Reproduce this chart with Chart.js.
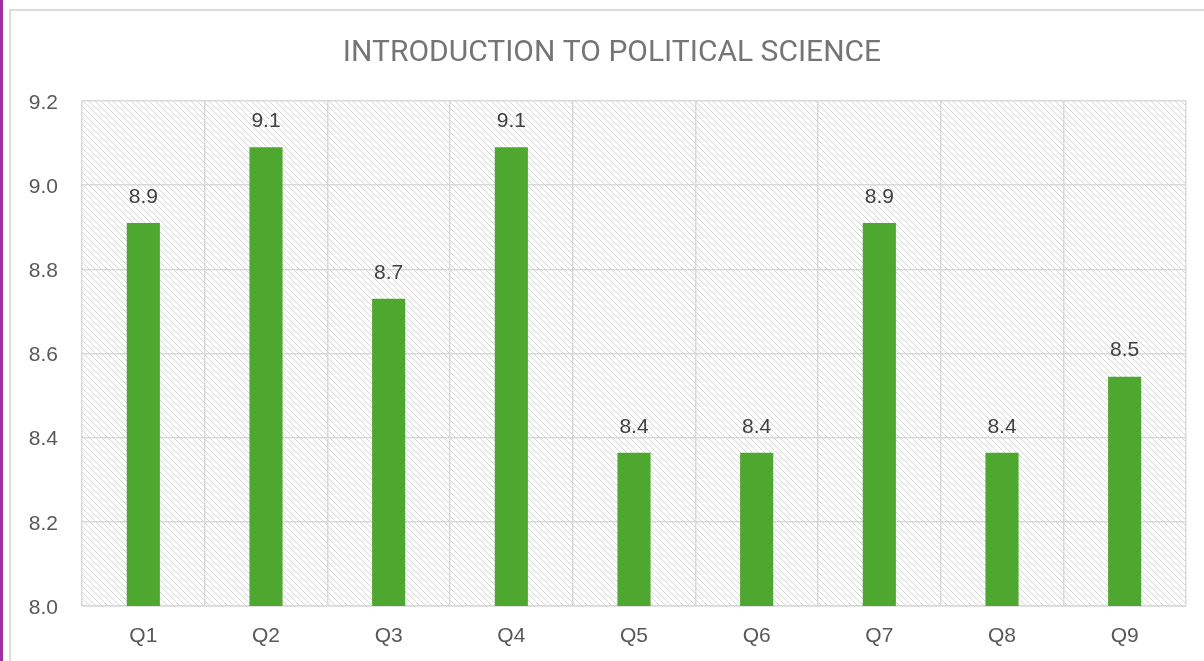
<!DOCTYPE html>
<html>
<head>
<meta charset="utf-8">
<script src="https://cdn.jsdelivr.net/npm/chart.js@4"></script>
<style>
    html, body { margin: 0; padding: 0; background: #fff; overflow: hidden; }
    #franja { position: absolute; left: 0; top: 0; width: 3px; height: 661px; background: #a0309f; }
    #marco { position: absolute; left: 9px; top: 9px; width: 1300px; height: 800px; border: 2px solid #dcdcdc; }
    #caja { position: absolute; left: 10px; top: 10px; width: 1204px; height: 651px; }
</style>
</head>
<body>
<div id="franja"></div>
<div id="marco"></div>
<div id="caja"><canvas id="graficoNotas"></canvas></div>
<script>
// Datos del gráfico
const preguntas = ['Q1', 'Q2', 'Q3', 'Q4', 'Q5', 'Q6', 'Q7', 'Q8', 'Q9'];
const notas = [8.91, 9.09, 8.73, 9.09, 8.364, 8.364, 8.91, 8.364, 8.545];
const titulo = 'INTRODUCTION TO POLITICAL SCIENCE';
const ejeMin = 8.0;
const ejeMax = 9.2;
const paso = 0.2;

// Trama diagonal del fondo del área de trazado
function crearTrama() {
    const c = document.createElement('canvas');
    c.width = 6;
    c.height = 6;
    const g = c.getContext('2d');
    g.strokeStyle = '#d6d6d6';
    g.lineWidth = 1;
    g.beginPath();
    g.moveTo(-1, -1); g.lineTo(7, 7);
    g.moveTo(-1, 5); g.lineTo(1, 7);
    g.moveTo(5, -1); g.lineTo(7, 1);
    g.stroke();
    return g.createPattern(c, 'repeat');
}

const fondoTrama = {
    id: 'fondoTrama',
    afterLayout(chart) {
        // centrar el título igual que en el original
        if (chart.titleBlock) chart.titleBlock.left = 28;
    },
    beforeDraw(chart) {
        const { ctx, chartArea } = chart;
        ctx.save();
        ctx.fillStyle = crearTrama();
        ctx.fillRect(chartArea.left, chartArea.top, chartArea.right - chartArea.left, chartArea.bottom - chartArea.top);
        ctx.restore();
    }
};

// Etiquetas de valor encima de cada barra
const etiquetasValor = {
    id: 'etiquetasValor',
    afterDatasetsDraw(chart) {
        const ctx = chart.ctx;
        const meta = chart.getDatasetMeta(0);
        ctx.save();
        ctx.font = '21px "Liberation Sans", Arial, sans-serif';
        ctx.fillStyle = '#404040';
        ctx.textAlign = 'center';
        ctx.textBaseline = 'middle';
        meta.data.forEach((bar, i) => {
            ctx.fillText(notas[i].toFixed(1), bar.x, bar.y - 26);
        });
        ctx.restore();
    }
};

new Chart(document.getElementById('graficoNotas'), {
    type: 'bar',
    data: {
        labels: preguntas,
        datasets: [{
            data: notas,
            backgroundColor: '#4ea72e',
            borderWidth: 0,
            barPercentage: 0.27,
            categoryPercentage: 1
        }]
    },
    options: {
        responsive: true,
        maintainAspectRatio: false,
        animation: false,
        layout: { padding: { left: 0, right: 28, top: 0, bottom: 0 } },
        plugins: {
            legend: { display: false },
            tooltip: { enabled: false },
            title: {
                display: true,
                text: titulo,
                color: '#757575',
                font: { family: 'Roboto, "Liberation Sans", sans-serif', size: 30, weight: 'normal' },
                padding: { top: 25, bottom: 30 }
            }
        },
        scales: {
            x: {
                grid: { color: '#d9d9d9', lineWidth: 1.5, drawTicks: false },
                border: { color: '#d9d9d9', width: 1.5 },
                ticks: {
                    color: '#595959',
                    padding: 18,
                    font: { family: '"Liberation Sans", Arial, sans-serif', size: 21 }
                },
                afterFit(scale) { scale.height = 55; }
            },
            y: {
                min: ejeMin,
                max: ejeMax,
                grid: { color: '#d9d9d9', lineWidth: 1.5, drawTicks: false },
                border: { display: false },
                ticks: {
                    stepSize: paso,
                    color: '#595959',
                    padding: 24,
                    labelOffset: 2,
                    font: { family: '"Liberation Sans", Arial, sans-serif', size: 21 },
                    callback: (v) => Number(v).toFixed(1)
                },
                afterFit(scale) { scale.width = 72; }
            }
        }
    },
    plugins: [fondoTrama, etiquetasValor]
});
</script>
</body>
</html>
